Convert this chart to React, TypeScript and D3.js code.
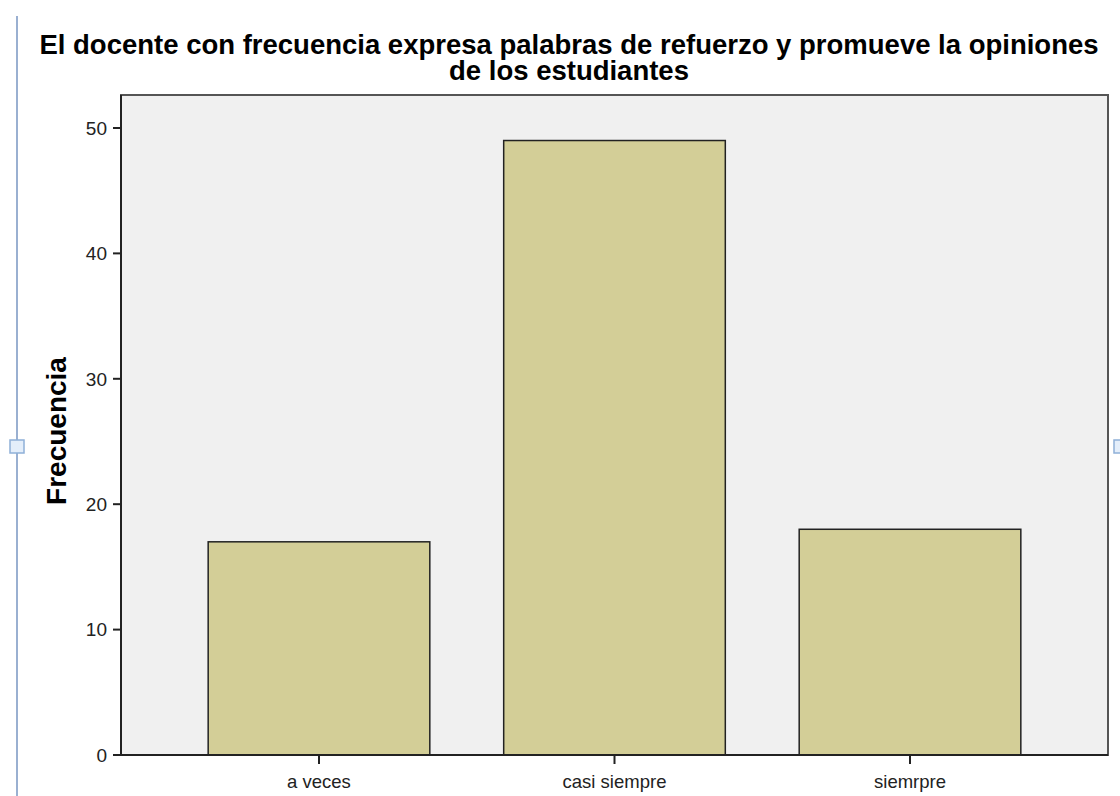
import * as d3 from "d3";

const categories = ["a veces", "casi siempre", "siemrpre"];
const frecuencias = [17, 49, 18];
const yTicks = [0, 10, 20, 30, 40, 50];
const titleLines = [
  "El docente con frecuencia expresa palabras de refuerzo y promueve la opiniones",
  "de los estudiantes",
];

const W = 1120;
const H = 796;
const plot = { left: 121, right: 1108, top: 95, bottom: 755 };

const App = () => {
  const x = d3
    .scaleBand<string>()
    .domain(categories)
    .range([plot.left, plot.right])
    .paddingInner(0.25)
    .paddingOuter(0.295);

  const y = d3
    .scaleLinear()
    .domain([0, 52.63])
    .range([plot.bottom, plot.top]);

  const font = "'Liberation Sans', Arial, sans-serif";

  return (
    <svg
      width={W}
      height={H}
      style={{ position: "absolute", left: 0, top: 0, background: "#fff" }}
      fontFamily={font}
    >
      {/* page marker line */}
      <line x1={17} x2={17} y1={16} y2={H} stroke="#7896c2" strokeWidth={1.5} />
      <rect x={10} y={440} width={14} height={13} fill="#e4eefa" stroke="#8fb0d8" strokeWidth={1.5} />
      <rect x={1114} y={440} width={14} height={13} fill="#e4eefa" stroke="#8fb0d8" strokeWidth={1.5} />

      {/* title */}
      <text textAnchor="middle" fontSize="27.5" fontWeight="bold" fill="#000">
        {titleLines.map((t, i) => (
          <tspan key={i} x={569} y={54 + i * 26}>
            {t}
          </tspan>
        ))}
      </text>

      {/* plot area */}
      <rect
        x={plot.left}
        y={plot.top}
        width={plot.right - plot.left}
        height={plot.bottom - plot.top}
        fill="#f0f0f0"
        stroke="#555"
        strokeWidth={2}
      />

      {frecuencias.map((v, i) => (
        <rect
          key={i}
          x={x(categories[i])}
          y={y(v)}
          width={x.bandwidth()}
          height={plot.bottom - y(v)}
          fill="#d3ce97"
          stroke="#222"
          strokeWidth={1.5}
        />
      ))}

      {/* axes */}
      <line x1={plot.left} x2={plot.left} y1={plot.top} y2={plot.bottom} stroke="#222" strokeWidth={2} />
      <line x1={plot.left} x2={plot.right} y1={plot.bottom} y2={plot.bottom} stroke="#222" strokeWidth={2} />

      {yTicks.map((t) => (
        <g key={t}>
          <line x1={plot.left - 8} x2={plot.left} y1={y(t)} y2={y(t)} stroke="#222" strokeWidth={2} />
          <text x={plot.left - 14} y={y(t)} dy="0.36em" textAnchor="end" fontSize="19" fill="#222">
            {t}
          </text>
        </g>
      ))}

      {categories.map((c) => {
        const cx = (x(c) ?? 0) + x.bandwidth() / 2;
        return (
          <g key={c}>
            <line x1={cx} x2={cx} y1={plot.bottom} y2={plot.bottom + 9} stroke="#222" strokeWidth={2} />
            <text x={cx} y={788} textAnchor="middle" fontSize="18.5" fill="#222">
              {c}
            </text>
          </g>
        );
      })}

      <text
        transform={`translate(66 ${431}) rotate(-90)`}
        textAnchor="middle"
        fontSize="28"
        fontWeight="bold"
        fill="#000"
      >
        Frecuencia
      </text>
    </svg>
  );
};

export default App;
